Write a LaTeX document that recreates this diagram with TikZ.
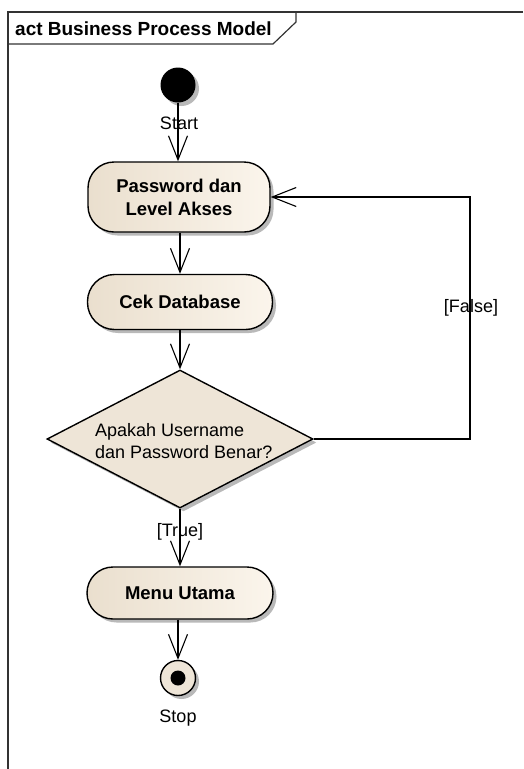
\documentclass[tikz,border=0pt]{standalone}
\usepackage{fontspec}
\setmainfont{Liberation Sans}
\usetikzlibrary{arrows.meta,shapes.geometric,shadows}
\definecolor{fillL}{RGB}{234,223,206}
\definecolor{fillR}{RGB}{251,245,236}
\definecolor{decfill}{RGB}{238,229,215}
\definecolor{shadowc}{RGB}{185,185,185}
\begin{document}
\begin{tikzpicture}[x=1pt,y=-1pt,
  txt/.style={font=\fontsize{18}{22}\selectfont, inner sep=0pt},
  shadowed/.style={drop shadow={shadow xshift=3.5pt,shadow yshift=-3.5pt,fill=shadowc,opacity=1}},
  act/.style={draw, line width=1.4pt, rectangle, left color=fillL, right color=fillR,
    font=\fontsize{18.5}{23}\selectfont\bfseries, align=center, inner sep=0pt, shadowed},
  flow/.style={draw, line width=1.1pt, -{Straight Barb[length=24pt,width=19pt,line width=1.1pt]}},
  framel/.style={draw=black!80, line width=1.2pt}
]
\useasboundingbox (0,0) rectangle (523,769);
% frame
\draw[framel] (523,12) -- (8,12) -- (8,769);
\draw[framel] (8,44) -- (273,44) -- (296,22) -- (296,12);
\node[txt, font=\fontsize{19}{22}\selectfont\bfseries, anchor=west] (title) at (15,29) {act Business Process Model};

% nodes
\node[circle, fill=black, minimum size=35pt, inner sep=0pt, shadowed] (start) at (178,85) {};
\node[txt] (startlbl) at (179,123) {Start};
\node[act, minimum width=182pt, minimum height=70pt, rounded corners=26pt] (pw) at (179,197) {Password dan\\Level Akses};
\node[act, minimum width=185pt, minimum height=55pt, rounded corners=27pt] (cek) at (180,302) {Cek Database};
\node[diamond, draw, line width=1.4pt, fill=decfill, minimum width=266pt, minimum height=138pt, inner sep=0pt, shadowed] (dec) at (180,439) {};
\node[txt, align=left, anchor=west] (dectext) at (95,441) {Apakah Username\\dan Password Benar?};
\node[act, minimum width=186pt, minimum height=52pt, rounded corners=26pt] (menu) at (180,593) {Menu Utama};
\node[circle, draw, line width=1.4pt, fill=decfill, minimum size=35pt, inner sep=0pt, shadowed] (stop) at (178,678) {};
\node[circle, fill=black, minimum size=15pt, inner sep=0pt] (stopdot) at (stop) {};
\node[txt] (stoplbl) at (178,718) {Stop};

% connectors
\coordinate (fr) at (470,0);
\draw[flow] (start.south) -- (start.south |- pw.north);
\draw[flow] (pw.south -| cek) -- (cek.north);
\draw[flow] (cek.south) -- (dec.north);
\draw[flow] (dec.south) -- (menu.north -| dec.south);
\draw[flow] (stop.north |- menu.south) -- (stop.north);
\draw[flow] (dec.east) -- (fr |- dec.east) -- (fr |- pw.east) -- (pw.east);
\node[txt] (truelbl) at (180,532) {[True]};
\node[txt] (falselbl) at (471,308) {[False]};
\end{tikzpicture}
\end{document}
